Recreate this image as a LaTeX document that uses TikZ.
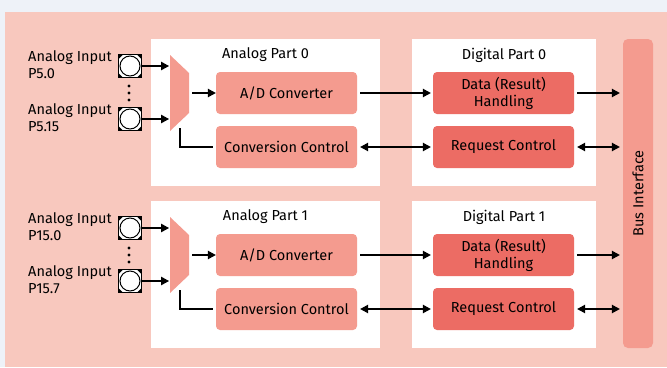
\documentclass[tikz,border=0pt]{standalone}
\usepackage{fontspec}
\setmainfont{Fira Sans}
\usetikzlibrary{positioning,arrows.meta}
\definecolor{outerbg}{HTML}{EEF2F8}
\definecolor{panelpink}{HTML}{F8C8BE}
\definecolor{salmon}{HTML}{F49B8F}
\definecolor{redblock}{HTML}{EC6C64}
\begin{document}
\begin{tikzpicture}[x=1pt,y=-1pt,
part/.style={rectangle, fill=white, minimum width=229pt, minimum height=147pt},
digpart/.style={part, minimum width=184pt},
block/.style={rectangle, rounded corners=4pt, fill=salmon, minimum width=141pt, minimum height=42pt, align=center, font=\fontsize{14.5}{17}\selectfont},
digblock/.style={block, fill=redblock},
title/.style={font=\fontsize{14.5}{17}\selectfont},
inlabel/.style={anchor=west, align=left, inner sep=0pt, font=\fontsize{14.5}{17}\selectfont},
inpad/.style={rectangle, draw=black, line width=1.6pt, fill=white, minimum size=23pt, inner sep=0pt,
  path picture={
    \fill[black] (path picture bounding box.north west) -- ++(4.5pt,0) -- ++(-4.5pt,-4.5pt) -- cycle;
    \fill[black] (path picture bounding box.north east) -- ++(-4.5pt,0) -- ++(4.5pt,-4.5pt) -- cycle;
    \fill[black] (path picture bounding box.south west) -- ++(4.5pt,0) -- ++(-4.5pt,4.5pt) -- cycle;
    \fill[black] (path picture bounding box.south east) -- ++(-4.5pt,0) -- ++(4.5pt,4.5pt) -- cycle;
    \draw[black, line width=1pt, fill=white] (path picture bounding box.center) circle (10pt);}},
mux/.style={fill=salmon},
dot/.style={circle, fill=black, inner sep=0pt, minimum size=3.4pt},
conn/.style={line width=1.1pt},
>={Triangle[length=8pt,width=8.5pt]}
]
% background
\fill[outerbg] (0,0) rectangle (667,367);
\fill[panelpink] (5,12) rectangle (667,367);

% upper half
\node[part](ana_part_0) at (265.5,112.5){};
\node[digpart](dig_part_0) at (504,112.5){};
\node[title](ana_title_0) at (265.5,55){Analog Part 0};
\node[title](dig_title_0) at (504,55){Digital Part 0};

\node[block](ad_0) at (286.5,93){A/D Converter};
\node[block](conv_0) at (286.5,147){Conversion Control};
\node[digblock](data_0) at (503.5,93){Data (Result)\\Handling};
\node[digblock](req_0) at (503.5,147){Request Control};

\node[inlabel](lbl_0a) at (28,65){Analog Input\\P5.0};
\node[inlabel](lbl_0b) at (28,118){Analog Input\\P5.15};
\node[inpad](pad_0a) at (130,66){};
\node[inpad](pad_0b) at (130,119){};
\node[dot](dot_0a) at (129,86){};
\node[dot](dot_0b) at (129,93){};
\node[dot](dot_0c) at (129,100){};

\fill[mux] (170,55) -- (189,73) -- (189,113) -- (170,131) -- cycle;
\coordinate (mux_0_ina) at (169,66);
\coordinate (mux_0_inb) at (169,119);
\coordinate (mux_0_out) at (192,93);
\coordinate (mux_0_sel) at (180,128);

% lower half
\node[part](ana_part_1) at (265.5,274.5){};
\node[digpart](dig_part_1) at (504,274.5){};
\node[title](ana_title_1) at (265.5,217){Analog Part 1};
\node[title](dig_title_1) at (504,217){Digital Part 1};

\node[block](ad_1) at (286.5,255){A/D Converter};
\node[block](conv_1) at (286.5,309){Conversion Control};
\node[digblock](data_1) at (503.5,255){Data (Result)\\Handling};
\node[digblock](req_1) at (503.5,309){Request Control};

\node[inlabel](lbl_1a) at (28,227){Analog Input\\P15.0};
\node[inlabel](lbl_1b) at (28,280){Analog Input\\P15.7};
\node[inpad](pad_1a) at (130,228){};
\node[inpad](pad_1b) at (130,281){};
\node[dot](dot_1a) at (129,248){};
\node[dot](dot_1b) at (129,255){};
\node[dot](dot_1c) at (129,262){};

\fill[mux] (170,217) -- (189,235) -- (189,275) -- (170,293) -- cycle;
\coordinate (mux_1_ina) at (169,228);
\coordinate (mux_1_inb) at (169,281);
\coordinate (mux_1_out) at (192,255);
\coordinate (mux_1_sel) at (180,290);

% bus
\node[rectangle, rounded corners=5pt, fill=salmon, rotate=90, minimum width=309pt, minimum height=30pt, font=\fontsize{14.5}{17}\selectfont](bus) at (638,193.5){Bus Interface};

% connectors
\draw[conn,->] (pad_0a.east) -- (mux_0_ina);
\draw[conn,->] (pad_0b.east) -- (mux_0_inb);
\draw[conn,->] (mux_0_out) -- (ad_0.west);
\draw[conn,shorten >=3pt] (mux_0_sel) |- (conv_0.west);
\draw[conn,->,shorten <=3pt,shorten >=2pt] (ad_0.east) -- (data_0.west);
\draw[conn,<->,shorten <=3pt,shorten >=2pt] (conv_0.east) -- (req_0.west);
\draw[conn,->,shorten <=3pt,shorten >=3pt] (data_0.east) -- (data_0.east -| bus.north);
\draw[conn,<->,shorten <=3pt,shorten >=3pt] (req_0.east) -- (req_0.east -| bus.north);

\draw[conn,->] (pad_1a.east) -- (mux_1_ina);
\draw[conn,->] (pad_1b.east) -- (mux_1_inb);
\draw[conn,->] (mux_1_out) -- (ad_1.west);
\draw[conn,shorten >=3pt] (mux_1_sel) |- (conv_1.west);
\draw[conn,->,shorten <=3pt,shorten >=2pt] (ad_1.east) -- (data_1.west);
\draw[conn,<->,shorten <=3pt,shorten >=2pt] (conv_1.east) -- (req_1.west);
\draw[conn,->,shorten <=3pt,shorten >=3pt] (data_1.east) -- (data_1.east -| bus.north);
\draw[conn,<->,shorten <=3pt,shorten >=3pt] (req_1.east) -- (req_1.east -| bus.north);
\end{tikzpicture}
\end{document}
